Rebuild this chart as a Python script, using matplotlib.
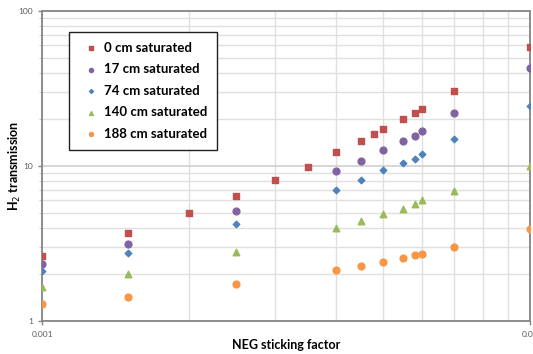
"""
H2 transmission vs NEG sticking factor, log-log scatter.
"""
import matplotlib
matplotlib.use('Agg')
import matplotlib.pyplot as plt
from matplotlib.ticker import LogLocator, NullFormatter, FixedLocator, FixedFormatter

plt.rcParams['font.family'] = ['Lato', 'DejaVu Sans']

# sticking factors
x_all = [0.001, 0.0015, 0.002, 0.0025, 0.003, 0.0035, 0.004, 0.0045, 0.0048,
         0.005, 0.0055, 0.0058, 0.006, 0.007, 0.01]
x_sub = [0.001, 0.0015, 0.0025, 0.004, 0.0045, 0.005, 0.0055, 0.0058, 0.006,
         0.007, 0.01]

sat_0 = [2.61, 3.70, 4.95, 6.4, 8.09, 9.9, 12.3, 14.6, 16.0, 17.3, 20.1, 22.0,
         23.2, 30.5, 58.9]
sat_17 = [2.34, 3.12, 5.15, 9.24, 10.7, 12.6, 14.4, 15.5, 16.7, 22.0, 43.1]
sat_74 = [2.11, 2.73, 4.22, 7.0, 8.09, 9.42, 10.5, 11.1, 11.9, 14.9, 24.4]
sat_140 = [1.66, 2.02, 2.79, 3.96, 4.40, 4.90, 5.25, 5.66, 6.01, 6.87, 10.0]
sat_188 = [1.29, 1.42, 1.72, 2.12, 2.27, 2.41, 2.54, 2.68, 2.71, 3.0, 3.91]

labels = ['0 cm saturated', '17 cm saturated', '74 cm saturated',
          '140 cm saturated', '188 cm saturated']
colors = ['#C0504D', '#8064A2', '#4F81BD', '#9BBB59', '#F79646']


def main():
    fig = plt.figure(figsize=(5.33, 3.54), dpi=100)
    ax = fig.add_axes([42 / 533, 1 - 321 / 354, 488 / 533, 310 / 354])

    ax.set_xscale('log')
    ax.set_yscale('log')
    ax.set_xlim(0.001, 0.01)
    ax.set_ylim(1, 100)

    ax.scatter(x_all, sat_0, marker='s', s=24, color=colors[0], label=labels[0], zorder=3)
    ax.scatter(x_sub, sat_17, marker='o', s=24, color=colors[1], label=labels[1], zorder=3)
    ax.scatter(x_sub, sat_74, marker='D', s=11, color=colors[2], label=labels[2], zorder=3)
    ax.scatter(x_sub, sat_140, marker='^', s=22, color=colors[3], label=labels[3], zorder=3)
    ax.scatter(x_sub, sat_188, marker='o', s=24, color=colors[4], label=labels[4], zorder=3)

    # grid
    ax.xaxis.set_major_locator(FixedLocator([0.001, 0.01]))
    ax.xaxis.set_major_formatter(FixedFormatter(['0.001', '0.01']))
    ax.xaxis.set_minor_locator(LogLocator(base=10, subs=range(2, 10)))
    ax.xaxis.set_minor_formatter(NullFormatter())
    ax.yaxis.set_major_locator(FixedLocator([1, 10, 100]))
    ax.yaxis.set_major_formatter(FixedFormatter(['1', '10', '100']))
    ax.yaxis.set_minor_locator(LogLocator(base=10, subs=range(2, 10)))
    ax.yaxis.set_minor_formatter(NullFormatter())
    ax.grid(True, which='major', color='#d0d0d0', linewidth=1.2, zorder=0)
    ax.grid(True, which='minor', color='#e0e0e0', linewidth=1.0, zorder=0)
    ax.set_axisbelow(True)

    ax.tick_params(axis='both', which='major', labelsize=6, labelcolor='#595959',
                   color='#868686', length=3, width=1)
    ax.tick_params(axis='x', which='minor', length=0)
    ax.tick_params(axis='y', which='minor', length=2, color='#bbbbbb')
    ax.tick_params(axis='x', which='major', pad=4)

    for sp in ax.spines.values():
        sp.set_color('#868686')
        sp.set_linewidth(1.3)

    ax.set_xlabel('NEG sticking factor', fontsize=9, fontweight='bold', va='center')
    ax.set_ylabel('H$_2$ transmission', fontsize=9, fontweight='bold', va='center')
    ax.xaxis.set_label_coords(244 / 488, -24 / 310)
    ax.yaxis.set_label_coords(-27 / 488, 0.5)

    leg = ax.legend(loc='upper left', bbox_to_anchor=(27 / 488, 1 - 21 / 310),
                    borderaxespad=0, fancybox=False, framealpha=1,
                    edgecolor='#222222', prop={'size': 9.5, 'weight': 'bold'},
                    handletextpad=0.1, handlelength=1.8, labelspacing=0.72,
                    borderpad=0.75, markerscale=0.6)
    leg.get_frame().set_linewidth(1.0)

    plt.savefig('out.png', dpi=100)
    plt.close()


if __name__ == '__main__':
    main()
